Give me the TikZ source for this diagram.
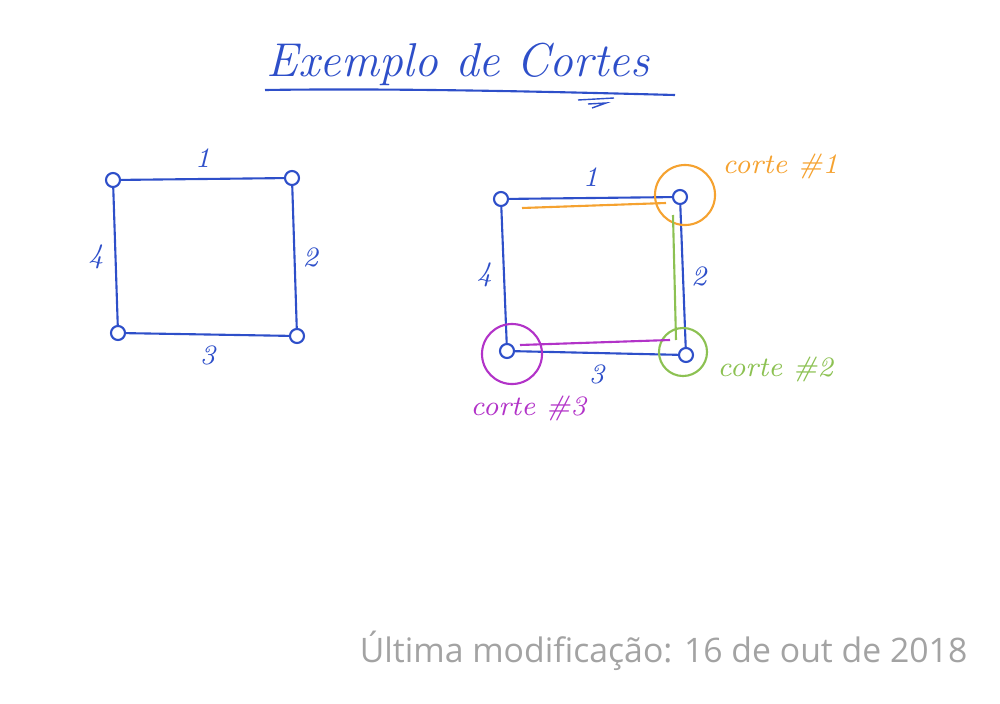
\documentclass[tikz,border=0pt]{standalone}
\usepackage{fontspec}
\setsansfont{Open Sans}
\usetikzlibrary{positioning,calc}
\definecolor{pen}{HTML}{2E4FC9}
\definecolor{cutone}{HTML}{F5A230}
\definecolor{cuttwo}{HTML}{8CC152}
\definecolor{cutthree}{HTML}{B233C8}
\definecolor{stamp}{HTML}{A3A3A3}

\begin{document}
\begin{tikzpicture}[
  x=0.01cm, y=-0.01cm,
  vtx/.style={circle, draw=pen, semithick, inner sep=0pt, minimum size=0.14cm},
  edg/.style={draw=pen, semithick},
  num/.style={text=pen, font=\itshape\footnotesize, inner sep=1pt},
  ring/.style={circle, draw=#1, semithick, inner sep=0pt},
  cutln/.style={draw=#1, semithick},
  cutcap/.style={text=#1, font=\itshape\footnotesize, anchor=west, inner sep=0pt},
]
\useasboundingbox (0,0) rectangle (1000,703);

% ---------- title ----------
\node[text=pen, font=\itshape\fontsize{13.5}{15}\selectfont] (title) at (458,64) {Exemplo de Cortes};
\coordinate (ul1) at (265,90); \coordinate (ul2) at (675,95);
\draw[pen, semithick] (ul1) .. controls (400,88) and (560,92) .. (ul2);
\draw[pen, thin] (578,100) -- (614,98) (588,104) -- (606,103) -- (592,108);

% ---------- graph (left) ----------
\node[vtx] (a1) at (113,180) {};
\node[vtx] (a2) at (292,178) {};
\node[vtx] (a3) at (297,336) {};
\node[vtx] (a4) at (118,333) {};
\draw[edg] (a1) -- node[num, above=2pt] {1} (a2);
\draw[edg] (a2) -- node[num, right=1pt] {2} (a3);
\draw[edg] (a3) -- node[num, below=2pt] {3} (a4);
\draw[edg] (a4) -- node[num, left=2pt] {4} (a1);

% ---------- graph with cuts (right) ----------
\node[vtx] (b1) at (501,199) {};
\node[vtx] (b2) at (680,197) {};
\node[vtx] (b3) at (686,355) {};
\node[vtx] (b4) at (507,351) {};
\draw[edg] (b1) -- node[num, above=2pt] {1} (b2);
\draw[edg] (b2) -- node[num, right=1pt] {2} (b3);
\draw[edg] (b3) -- node[num, below=2pt] {3} (b4);
\draw[edg] (b4) -- node[num, left=2pt] {4} (b1);

% cut #1
\node[ring=cutone, minimum size=0.60cm] (r1) at (685,195) {};
\coordinate (c1a) at (522,208); \coordinate (c1b) at (666,203);
\draw[cutln=cutone] (c1a) -- (c1b);
\node[cutcap=cutone] (t1) at (722,166) {corte \#1};

% cut #2
\node[ring=cuttwo, minimum size=0.48cm] (r2) at (683,352) {};
\coordinate (c2a) at (673,215); \coordinate (c2b) at (676,340);
\draw[cutln=cuttwo] (c2a) -- (c2b);
\node[cutcap=cuttwo] (t2) at (717,369) {corte \#2};

% cut #3
\node[ring=cutthree, minimum size=0.60cm] (r3) at (512,354) {};
\coordinate (c3a) at (520,345); \coordinate (c3b) at (670,340);
\draw[cutln=cutthree] (c3a) -- (c3b);
\node[cutcap=cutthree] (t3) at (470,408) {corte \#3};

% ---------- footer ----------
\node[text=stamp, font=\sffamily\fontsize{9.6}{11}\selectfont, anchor=east, inner sep=0pt] (stamp) at (968,651)
  {Última modificação: 16 de out de 2018};
\end{tikzpicture}
\end{document}
